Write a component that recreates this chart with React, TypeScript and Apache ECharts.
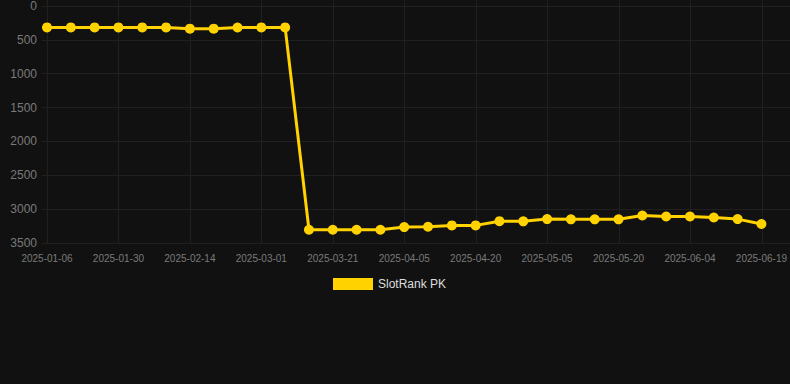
import React, { useEffect, useRef } from "react";
import * as echarts from "echarts";

const dates = [
  "2025-01-06", "2025-01-20", "2025-01-25", "2025-01-30", "2025-02-04", "2025-02-09",
  "2025-02-14", "2025-02-19", "2025-02-24", "2025-03-01", "2025-03-06", "2025-03-16",
  "2025-03-21", "2025-03-26", "2025-03-31", "2025-04-05", "2025-04-10", "2025-04-15",
  "2025-04-20", "2025-04-25", "2025-04-30", "2025-05-05", "2025-05-10", "2025-05-15",
  "2025-05-20", "2025-05-25", "2025-05-30", "2025-06-04", "2025-06-09", "2025-06-14",
  "2025-06-19",
];

const rankValues = [
  316, 316, 316, 316, 316, 316, 335, 335, 318, 316, 316,
  3304, 3304, 3304, 3304, 3265, 3260, 3240, 3240, 3178, 3180,
  3147, 3150, 3150, 3150, 3094, 3108, 3108, 3123, 3147, 3220,
];

const seriesName = "SlotRank PK";
const yMin = 0;
const yMax = 3500;
const yStep = 500;

export default function App() {
  const ref = useRef<HTMLDivElement>(null);

  useEffect(() => {
    if (!ref.current) return;
    const chart = echarts.init(ref.current, null, { renderer: "svg" });
    const gridColor = "#202020";
    chart.setOption({
      animation: false,
      backgroundColor: "#111111",
      grid: [
        { left: 42, right: 0, top: 6, bottom: 141 },
        { left: 47, right: 28, top: 0, bottom: 141 },
        { left: 47, right: 28, top: 6, bottom: 141 },
      ],
      xAxis: [
        { gridIndex: 0, type: "value", show: false },
        {
          gridIndex: 1,
          type: "category",
          data: dates,
          boundaryGap: false,
          axisLine: { show: false },
          axisTick: { show: false },
          axisLabel: { show: false },
          splitLine: { show: true, interval: 2, lineStyle: { color: gridColor, width: 1 } },
        },
        {
          gridIndex: 2,
          type: "category",
          data: dates,
          boundaryGap: false,
          axisLine: { show: false },
          axisTick: { show: false },
          splitLine: { show: false },
          axisLabel: {
            interval: 2,
            color: "#7a7a7a",
            fontSize: 10,
            fontFamily: "Liberation Sans, Arial, sans-serif",
            margin: 10,
          },
        },
      ],
      yAxis: [
        {
          gridIndex: 0,
          type: "value",
          inverse: true,
          min: yMin,
          max: yMax,
          interval: yStep,
          axisLine: { show: false },
          axisTick: { show: false },
          splitLine: { show: true, lineStyle: { color: gridColor, width: 1 } },
          axisLabel: {
            color: "#7a7a7a",
            fontSize: 12,
            fontFamily: "Liberation Sans, Arial, sans-serif",
            margin: 5,
            formatter: (v: number) => String(v),
          },
        },
        { gridIndex: 1, type: "value", show: false, min: 0, max: 1 },
        {
          gridIndex: 2,
          type: "value",
          inverse: true,
          min: yMin,
          max: yMax,
          show: false,
        },
      ],
      legend: {
        data: [seriesName],
        icon: "rect",
        itemWidth: 40,
        itemHeight: 12,
        itemGap: 10,
        left: 328,
        top: 273,
        textStyle: {
          color: "#dddddd",
          fontSize: 12,
          fontFamily: "Liberation Sans, Arial, sans-serif",
        },
      },
      series: [
        {
          name: seriesName,
          type: "line",
          xAxisIndex: 2,
          yAxisIndex: 2,
          data: rankValues,
          symbol: "circle",
          symbolSize: 10,
          showSymbol: true,
          lineStyle: { color: "#FFD200", width: 3 },
          itemStyle: { color: "#FFD200" },
        },
      ],
    });
    return () => chart.dispose();
  }, []);

  return (
    <div
      ref={ref}
      style={{ position: "fixed", left: 0, top: 0, width: 790, height: 384 }}
    />
  );
}
